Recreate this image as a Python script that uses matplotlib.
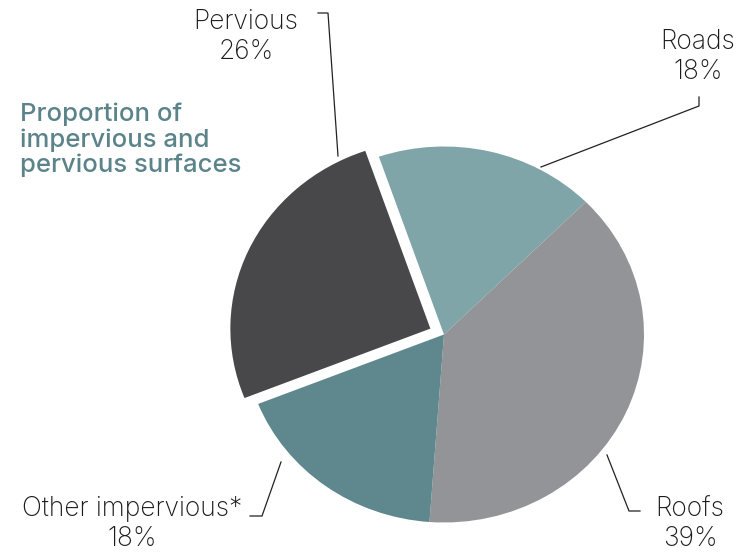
import matplotlib
matplotlib.use("Agg")
import matplotlib.pyplot as plt

# surface shares (percent)
labels = ["Roads", "Roofs", "Other impervious*", "Pervious"]
shares = [18, 39, 18, 26]
colors = ["#7fa5a8", "#939497", "#5e888e", "#48484a"]
explode = [0, 0, 0, 0.075]

W, H = 747, 553
fig = plt.figure(figsize=(W / 100, H / 100), dpi=100)

# pie in its own axes, slightly squashed vertically
cx, cy, rx, ry = 444, 334.5, 200, 188
pw, ph = 2.5 * rx, 2.5 * ry
ax = fig.add_axes([(cx - pw / 2) / W, (H - cy - ph / 2) / H, pw / W, ph / H])
ax.pie(shares, colors=colors, explode=explode, startangle=109,
       counterclock=False, radius=1,
       wedgeprops=dict(linewidth=0))
ax.set_aspect("auto")
ax.set_xlim(-1.25, 1.25)
ax.set_ylim(-1.25, 1.25)
ax.axis("off")

# overlay in pixel coordinates for labels and leader lines
ov = fig.add_axes([0, 0, 1, 1])
ov.set_xlim(0, W)
ov.set_ylim(H, 0)
ov.axis("off")

txt = dict(fontsize=19, color="#1a1a1a", family=["Inter", "DejaVu Sans"],
           fontweight="light", ha="center", va="center", linespacing=1.22)
ov.text(246, 37, "Pervious\n26%", **txt)
ov.text(698, 57, "Roads\n18%", **txt)
ov.text(132, 524, "Other impervious*\n18%", **txt)
ov.text(690, 524, "Roofs\n39%", **txt)

ov.text(20, 140, "Proportion of\nimpervious and\npervious surfaces", fontsize=18.5,
        color="#5b838a", family=["Inter", "DejaVu Sans"], fontweight="medium",
        ha="left", va="center", linespacing=1.1)

line = dict(color="#222222", lw=0.9)
ov.plot([318, 328, 338], [13, 13, 156], **line)
ov.plot([699, 699, 541], [97, 106, 167], **line)
ov.plot([250, 262, 281], [516, 516, 462], **line)
ov.plot([607, 629, 640], [455, 511, 511], **line)

fig.savefig("out.png", dpi=100)
